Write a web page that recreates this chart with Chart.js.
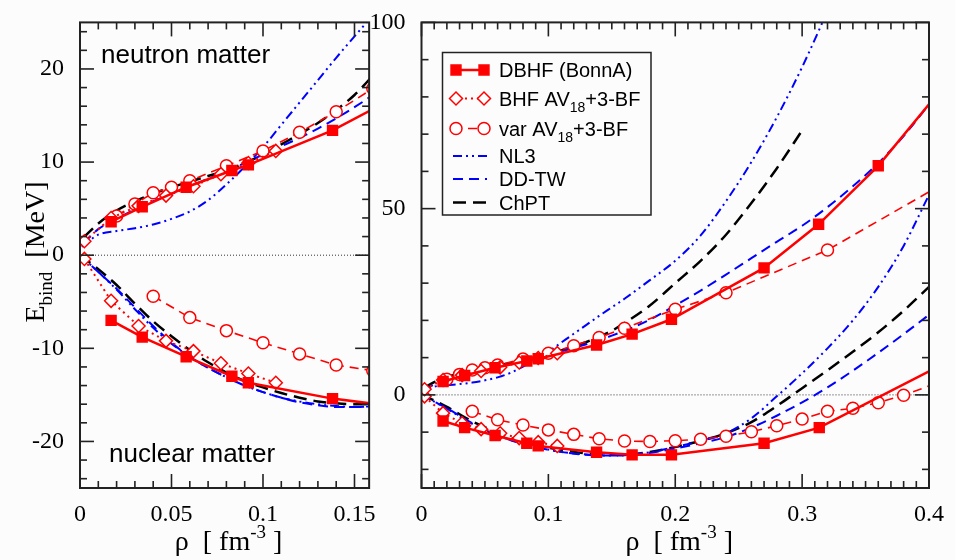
<!DOCTYPE html>
<!-- rev 9: E_bind(rho), materia neutronica y nuclear -->
<html lang="en">
<head>
<meta charset="utf-8">
<title>E_bind vs rho</title>
<style>
  html, body { margin: 0; padding: 0; background: #fcfcfc; }
  #wrap { position: relative; width: 955px; height: 560px; overflow: hidden; }
  canvas { position: absolute; top: 0; }
  #leftChart { left: 0; }
  #rightChart { left: 330px; }
</style>
<script src="https://cdn.jsdelivr.net/npm/chart.js@4.4.0/dist/chart.umd.min.js"></script>
</head>
<body>
<div id="wrap">
  <canvas id="leftChart" width="380" height="560"></canvas>
  <canvas id="rightChart" width="625" height="560"></canvas>
</div>
<script>
// datos: [rho (fm^-3), E_bind (MeV)]
const dbhfNeutron = [[0.017,3.6],[0.034,5.2],[0.058,7.3],[0.083,9.1],[0.092,9.7],[0.138,13.4],[0.166,16.3],[0.197,20.3],[0.270,34.1],[0.313,45.8],[0.360,61.5],[0.400,78.0]];
const dbhfNuclear = [[0.017,-7.0],[0.034,-8.8],[0.058,-10.9],[0.083,-13.0],[0.092,-13.7],[0.138,-15.4],[0.166,-16.1],[0.197,-16.1],[0.270,-13.0],[0.3135,-8.8],[0.400,6.3]];

const bhfNeutron = [[0.0024,1.5],[0.017,4.0],[0.032,5.3],[0.047,6.4],[0.062,7.4],[0.077,8.7],[0.092,9.9],[0.107,11.2]];
const bhfNuclear = [[0.0024,-0.4],[0.017,-4.9],[0.032,-7.6],[0.047,-9.2],[0.062,-10.3],[0.077,-11.6],[0.092,-12.7],[0.107,-13.7]];

const varNeutron = [[0.02,4.2],[0.03,5.5],[0.04,6.7],[0.05,7.3],[0.06,8.0],[0.08,9.6],[0.10,11.2],[0.12,13.2],[0.14,15.4],[0.16,17.9],[0.20,23.0],[0.24,27.4],[0.32,38.9],[0.40,54.5]];
const varNuclear = [[0.04,-4.4],[0.06,-6.7],[0.08,-8.1],[0.10,-9.4],[0.12,-10.6],[0.14,-11.8],[0.16,-12.4],[0.18,-12.5],[0.20,-12.3],[0.22,-11.9],[0.24,-11.1],[0.26,-9.9],[0.28,-8.3],[0.30,-6.5],[0.32,-4.4],[0.34,-3.6],[0.36,-2.1],[0.38,-0.1],[0.40,2.4]];

const nl3Neutron = [[0.001,0.9],[0.01,2.2],[0.02,2.6],[0.03,2.9],[0.04,3.3],[0.05,3.9],[0.06,4.7],[0.07,5.9],[0.08,7.6],[0.09,9.5],[0.10,11.6],[0.11,14.0],[0.12,16.4],[0.13,18.8],[0.14,21.2],[0.15,23.5],[0.16,25.8],[0.18,30.8],[0.20,36.0],[0.22,42.8],[0.24,52.0],[0.26,62.5],[0.28,74.5],[0.30,88.0],[0.32,103.0]];
const nl3Nuclear = [[0,0],[0.01,-1.8],[0.02,-3.7],[0.03,-5.8],[0.04,-7.8],[0.05,-9.5],[0.06,-10.9],[0.07,-12.1],[0.08,-13.1],[0.09,-14.0],[0.10,-14.7],[0.11,-15.3],[0.12,-15.7],[0.13,-16.0],[0.14,-16.2],[0.15,-16.3],[0.16,-16.2],[0.18,-15.4],[0.20,-14.0],[0.22,-12.4],[0.24,-10.3],[0.26,-6.3],[0.28,-0.4],[0.30,5.8],[0.32,12.5],[0.34,20.0],[0.36,29.0],[0.38,40.0],[0.40,53.7]];

const ddtwNeutron = [[0.002,1.3],[0.01,2.8],[0.02,3.9],[0.03,4.9],[0.04,5.8],[0.05,6.6],[0.06,7.4],[0.07,8.2],[0.08,9.0],[0.09,9.9],[0.10,10.8],[0.11,11.7],[0.12,12.6],[0.13,13.6],[0.14,14.7],[0.15,15.9],[0.16,17.2],[0.18,20.2],[0.20,24.0],[0.22,28.0],[0.24,32.3],[0.26,36.7],[0.28,41.1],[0.30,45.4],[0.32,50.4],[0.34,56.0],[0.36,62.2],[0.38,69.5],[0.40,78.0]];
const ddtwNuclear = [[0,0],[0.01,-1.8],[0.02,-3.6],[0.03,-5.6],[0.04,-7.6],[0.05,-9.4],[0.06,-10.9],[0.07,-12.1],[0.08,-13.1],[0.09,-14.0],[0.10,-14.7],[0.11,-15.3],[0.12,-15.8],[0.13,-16.1],[0.14,-16.3],[0.15,-16.3],[0.16,-16.2],[0.18,-15.6],[0.20,-14.4],[0.22,-13.0],[0.24,-11.3],[0.26,-8.8],[0.28,-5.6],[0.30,-2.0],[0.32,2.0],[0.34,6.5],[0.36,11.3],[0.38,16.3],[0.40,21.5]];

const chptNeutron = [[0.002,1.9],[0.01,3.4],[0.02,4.8],[0.03,5.8],[0.04,6.6],[0.05,7.3],[0.06,7.9],[0.07,8.5],[0.08,9.1],[0.09,9.9],[0.10,10.8],[0.11,11.9],[0.12,13.0],[0.13,14.2],[0.14,15.6],[0.15,17.2],[0.16,19.3],[0.18,24.0],[0.20,30.0],[0.22,36.0],[0.24,43.0],[0.26,51.5],[0.28,60.8],[0.30,71.0]];
const chptNuclear = [[0,0],[0.01,-1.5],[0.02,-3.2],[0.03,-5.2],[0.04,-7.1],[0.05,-8.7],[0.06,-10.2],[0.07,-11.5],[0.08,-12.6],[0.09,-13.5],[0.10,-14.2],[0.11,-14.8],[0.12,-15.3],[0.13,-15.7],[0.14,-15.9],[0.15,-16.0],[0.16,-16.0],[0.18,-15.3],[0.20,-14.0],[0.22,-12.3],[0.24,-10.3],[0.26,-7.3],[0.28,-3.0],[0.30,1.8],[0.32,6.6],[0.34,11.6],[0.36,16.8],[0.38,22.6],[0.40,29.0]];

const zeroLine = [[0,0],[0.4,0]];

// ticks con etiqueta
const leftXTicks = [0, 0.05, 0.1, 0.15];
const leftYTicks = [-20, -10, 0, 10, 20];
const rightXTicks = [0, 0.1, 0.2, 0.3, 0.4];
const rightYTicks = [0, 50, 100];

const legendLabels = [
  ['dbhf', [{t: 'DBHF (BonnA)'}]],
  ['bhf', [{t: 'BHF AV'}, {t: '18', sub: true}, {t: '+3-BF'}]],
  ['var', [{t: 'var AV'}, {t: '18', sub: true}, {t: '+3-BF'}]],
  ['nl3', [{t: 'NL3'}]],
  ['ddtw', [{t: 'DD-TW'}]],
  ['chpt', [{t: 'ChPT'}]]
];

const RED = '#ff0000', BLUE = '#0000ff', BLACK = '#000000';
const SERIF = '"Liberation Serif", serif';
const SANS = '"Liberation Sans", sans-serif';

const styles = {
  dbhf: {color: RED, dash: [], width: 2.5, point: 'rect', radius: 7, fill: RED},
  bhf: {color: RED, dash: [2, 4], width: 2, point: 'rectRot', radius: 6.5, fill: '#fff'},
  var: {color: RED, dash: [9, 6], width: 1.6, point: 'circle', radius: 6, fill: '#fff'},
  nl3: {color: BLUE, dash: [9, 4, 2, 4, 2, 4], width: 2, point: false},
  ddtw: {color: BLUE, dash: [10, 6], width: 2, point: false},
  chpt: {color: BLACK, dash: [13, 7], width: 2.5, point: false}
};

function makeDatasets() {
  const list = [
    ['dbhf', dbhfNeutron], ['dbhf', dbhfNuclear],
    ['bhf', bhfNeutron], ['bhf', bhfNuclear],
    ['var', varNeutron], ['var', varNuclear],
    ['nl3', nl3Neutron], ['nl3', nl3Nuclear],
    ['ddtw', ddtwNeutron], ['ddtw', ddtwNuclear],
    ['chpt', chptNeutron], ['chpt', chptNuclear]
  ];
  const ds = list.map(([key, pts]) => {
    const s = styles[key];
    return {
      data: pts.map(p => ({x: p[0], y: p[1]})),
      borderColor: s.color,
      borderWidth: s.width,
      borderDash: s.dash,
      backgroundColor: s.fill || s.color,
      pointStyle: s.point || 'circle',
      pointRadius: s.point ? pts.map(p => (p[0] >= 0.399 ? 0 : s.radius)) : 0,
      pointBorderWidth: 1.5,
      pointBorderColor: s.color,
      pointBackgroundColor: s.fill || s.color,
      cubicInterpolationMode: s.point ? 'default' : 'monotone',
      tension: s.point ? 0 : 0.4,
      clip: 0,
      fill: false
    };
  });
  ds.push({
    data: zeroLine.map(p => ({x: p[0], y: p[1]})),
    borderColor: '#333', borderWidth: 1, borderDash: [1, 2],
    pointRadius: 0, clip: 0, fill: false
  });
  return ds;
}

function drawRich(ctx, parts, x, y, size, family) {
  let cx = x;
  for (const p of parts) {
    const s = (p.sub || p.sup) ? Math.round(size * 0.68) : size;
    ctx.font = s + 'px ' + family;
    const dy = p.sub ? size * 0.3 : (p.sup ? -size * 0.42 : 0);
    ctx.fillText(p.t, cx, y + dy);
    cx += ctx.measureText(p.t).width;
  }
  return cx - x;
}
function richWidth(ctx, parts, size, family) {
  let w = 0;
  for (const p of parts) {
    ctx.font = ((p.sub || p.sup) ? Math.round(size * 0.68) : size) + 'px ' + family;
    w += ctx.measureText(p.t).width;
  }
  return w;
}

function drawMarker(ctx, s, x, y) {
  if (!s.point) return;
  ctx.save();
  ctx.setLineDash([]);
  ctx.lineWidth = 1.5;
  ctx.strokeStyle = s.color;
  ctx.fillStyle = s.fill;
  const r = s.radius;
  ctx.beginPath();
  if (s.point === 'rect') {
    const h = r * Math.SQRT1_2;
    ctx.rect(x - h, y - h, 2 * h, 2 * h);
  } else if (s.point === 'rectRot') {
    ctx.moveTo(x - r, y); ctx.lineTo(x, y - r); ctx.lineTo(x + r, y); ctx.lineTo(x, y + r); ctx.closePath();
  } else {
    ctx.arc(x, y, r, 0, Math.PI * 2);
  }
  ctx.fill();
  ctx.stroke();
  ctx.restore();
}

// ticks hacia adentro en los cuatro lados
function drawTicks(chart, cfg) {
  const ctx = chart.ctx, a = chart.chartArea;
  const xs = chart.scales.x, ys = chart.scales.y;
  const T = 1.6;
  ctx.save();
  ctx.fillStyle = '#222222';
  const isMajor = (v, step) => Math.abs(v / step - Math.round(v / step)) < 1e-6;
  const nx = Math.floor(cfg.xMax / cfg.xMinor + 1e-6);
  for (let n = 0; n <= nx; n++) {
    const v = n * cfg.xMinor;
    const px = xs.getPixelForValue(v);
    const L = isMajor(v, cfg.xMajor) ? 14 : 7;
    ctx.fillRect(px - T / 2, a.bottom - L, T, L);
    ctx.fillRect(px - T / 2, a.top, T, L);
  }
  const n0 = Math.ceil(cfg.yMin / cfg.yMinor - 1e-6), n1 = Math.floor(cfg.yMax / cfg.yMinor + 1e-6);
  for (let n = n0; n <= n1; n++) {
    const v = n * cfg.yMinor;
    const py = ys.getPixelForValue(v);
    const L = isMajor(v, cfg.yMajor) ? 14 : 7;
    ctx.fillRect(a.left, py - T / 2, L, T);
    ctx.fillRect(a.right - L, py - T / 2, L, T);
  }
  ctx.restore();
}

// marco, titulos, anotaciones y leyenda
function makeFramePlugin(cfg) {
  return {
    id: 'frame',
    afterDraw(chart) {
      drawTicks(chart, cfg);
      const ctx = chart.ctx, a = chart.chartArea;
      ctx.save();
      ctx.strokeStyle = '#222222';
      ctx.lineWidth = 2;
      ctx.setLineDash([]);
      ctx.strokeRect(a.left, a.top, a.right - a.left, a.bottom - a.top);

      ctx.fillStyle = '#000000';
      ctx.textBaseline = 'alphabetic';
      ctx.textAlign = 'left';
      const xt = [{t: 'ρ'}, {t: '  [ fm'}, {t: '-3', sup: true}, {t: ' ]'}];
      const w = richWidth(ctx, xt, 28, SERIF);
      drawRich(ctx, xt, (a.left + a.right) / 2 + 4 - w / 2, 550, 28, SERIF);

      if (cfg.side === 'left') {
        ctx.font = '26px ' + SANS;
        ctx.fillText('neutron matter', 101, 63);
        ctx.fillText('nuclear matter', 109, 462);
        const yt = [{t: 'E'}, {t: 'bind', sub: true}, {t: '  [MeV]'}];
        const wy = richWidth(ctx, yt, 28, SERIF);
        ctx.save();
        ctx.translate(43.5, 252);
        ctx.rotate(-Math.PI / 2);
        drawRich(ctx, yt, -wy / 2, 0, 28, SERIF);
        ctx.restore();
      } else {
        const ox = -330;
        ctx.lineWidth = 1.5;
        ctx.strokeStyle = '#222222';
        ctx.strokeRect(442.5 + ox, 52.5, 208.5, 162.5);
        const rows = [70, 98.5, 128.5, 156, 179, 202.5];
        legendLabels.forEach(([key, parts], i) => {
          const s = styles[key], yy = rows[i];
          ctx.save();
          ctx.strokeStyle = s.color;
          ctx.lineWidth = s.width;
          ctx.setLineDash(s.dash);
          ctx.beginPath();
          ctx.moveTo(453 + ox, yy); ctx.lineTo(487 + ox, yy);
          ctx.stroke();
          ctx.restore();
          drawMarker(ctx, s, 456 + ox, yy);
          drawMarker(ctx, s, 484 + ox, yy);
          ctx.fillStyle = '#000000';
          drawRich(ctx, parts, 499 + ox, yy + 7, 20, SANS);
        });
      }
      ctx.restore();
    }
  };
}

const fmt = v => String(Math.round(v * 1000) / 1000);

function makeChart(id, cfg, xTicks, yTicks, yWidth, padRight) {
  return new Chart(document.getElementById(id), {
    type: 'line',
    data: {datasets: makeDatasets()},
    options: {
      responsive: false,
      animation: false,
      devicePixelRatio: 1,
      layout: {padding: {top: 17, right: padRight}},
      scales: {
        x: {
          type: 'linear', min: 0, max: cfg.xMax,
          afterBuildTicks: s => { s.ticks = xTicks.map(v => ({value: v})); },
          afterFit: s => { s.height = 72; },
          grid: {display: false},
          border: {display: false},
          ticks: {font: {family: SERIF, size: 24}, color: '#000000', padding: 4, maxRotation: 0, autoSkip: false, callback: v => fmt(v)}
        },
        y: {
          type: 'linear', min: cfg.yMin, max: cfg.yMax,
          afterBuildTicks: s => { s.ticks = yTicks.map(v => ({value: v})); },
          afterFit: s => { s.width = yWidth; },
          grid: {display: false},
          border: {display: false},
          ticks: {font: {family: SERIF, size: 24}, color: '#000000', padding: 8, callback: v => fmt(v)}
        }
      },
      plugins: {legend: {display: false}, tooltip: {enabled: false}}
    },
    plugins: [makeFramePlugin(cfg)]
  });
}

makeChart('leftChart',
  {side: 'left', xMax: 0.158, yMin: -25, yMax: 25, xMinor: 0.01, xMajor: 0.05, yMinor: 2, yMajor: 10},
  leftXTicks, leftYTicks, 80, 10);
makeChart('rightChart',
  {side: 'right', xMax: 0.4, yMin: -25, yMax: 100, xMinor: 0.01, xMajor: 0.1, yMinor: 10, yMajor: 50},
  rightXTicks, rightYTicks, 91.5, 26);
</script>
</body>
</html>
